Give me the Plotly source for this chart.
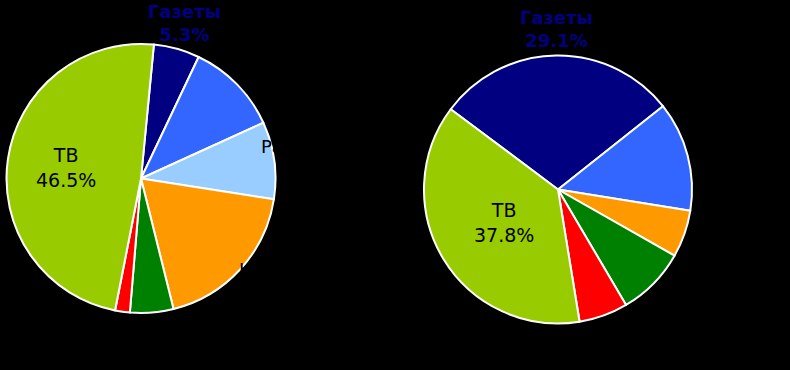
import math
import plotly.graph_objects as go

# ---- data ----
categories = ["Газеты", "Журналы", "Радио", "Наружная реклама", "Интернет", "Прочее", "ТВ"]
values_left = [5.3, 10.7, 8.9, 17.9, 5.0, 1.7, 46.5]
values_right = [29.1, 13.2, 0.0, 5.7, 8.3, 5.9, 37.8]

# ---- styling ----
colors = ["#000080", "#3366FF", "#99CCFF", "#FF9900", "#008000", "#FF0000", "#99CC00"]
W, H = 790, 370
FONT = "DejaVu Sans"
# label style per slice: (radial gap, xanchor, yanchor, line mode, dx, dy); ТВ label sits inside
left_label_style = [(4, "center", "bottom", "two", 7, 2), (6, "left", "bottom", "one", 0, 0),
                    (-10, "left", "bottom", "one", -5, -3), (-6, "left", "top", "two", 1, -8),
                    (6, "left", "top", "one", 0, 0), (6, "right", "top", "two", 0, 0), ("in", 0.565)]
right_label_style = [(4, "center", "bottom", "two", 0, 1), (6, "left", "middle", "two", 0, 0),
                     None, (6, "left", "middle", "three", 0, 0),
                     (6, "left", "top", "two", 0, 0), (6, "right", "top", "one", 0, 0), ("in", 0.475)]
pies = [
    dict(values=values_left, cx=141.0, cy=178.5, r=134.5, rotation=5.5, styles=left_label_style),
    dict(values=values_right, cx=558.0, cy=189.5, r=134.0, rotation=-53.2, styles=right_label_style),
]

fig = go.Figure()
annotations = []
for p in pies:
    cx, cy, r = p["cx"], p["cy"], p["r"]
    keep = [i for i, v in enumerate(p["values"]) if v > 0]
    cats = [categories[i] for i in keep]
    vals = [p["values"][i] for i in keep]
    cols = [colors[i] for i in keep]
    styles = [p["styles"][i] for i in keep]
    fig.add_trace(go.Pie(
        labels=cats, values=vals, sort=False, direction="clockwise",
        rotation=p["rotation"],
        marker=dict(colors=cols, line=dict(color="white", width=2)),
        textinfo="none",
        domain=dict(x=[(cx - r) / W, (cx + r) / W],
                    y=[1 - (cy + r) / H, 1 - (cy - r) / H]),
        showlegend=False, hoverinfo="label+value",
    ))
    total = sum(vals)
    ang = p["rotation"]
    for c, v, col, st in zip(cats, vals, cols, styles):
        span = v / total * 360.0
        mid = math.radians(ang + span / 2)
        ang += span
        s, co = math.sin(mid), math.cos(mid)
        if st[0] == "in":
            d = st[1] * r
            annotations.append(dict(
                x=(cx + d * s) / W, y=1 - (cy - d * co) / H, xref="paper", yref="paper",
                text=f"{c}<br>{v:.1f}%", showarrow=False, xanchor="center", yanchor="middle",
                font=dict(family=FONT, size=19, color="black"),
            ))
            continue
        g, xa, ya, mode, dx, dy = st
        px = cx + (r + g) * s + dx
        py = cy - (r + g) * co + dy
        is_news = c == "Газеты"
        if is_news:
            txt = f"<b>{c}</b><br><b>{v:.1f}%</b>"
        elif mode == "one":
            txt = f"{c} {v:.1f}%"
        elif mode == "two":
            txt = f"{c}<br>{v:.1f}%"
        else:
            txt = c.replace(" ", "<br>") + f"<br>{v:.1f}%"
        annotations.append(dict(
            x=px / W, y=1 - py / H, xref="paper", yref="paper",
            text=txt, showarrow=False, xanchor=xa, yanchor=ya,
            align="left" if xa == "left" else ("right" if xa == "right" else "center"),
            font=dict(family=FONT, size=18, color=col if is_news else "black"),
        ))

fig.update_layout(
    width=W, height=H, margin=dict(l=0, r=0, t=0, b=0),
    paper_bgcolor="black", plot_bgcolor="black",
    annotations=annotations,
)
fig.write_html(
    "out.html",
    config={"displayModeBar": False},
    post_script="document.body.style.margin='0';document.body.style.background='black';",
)
